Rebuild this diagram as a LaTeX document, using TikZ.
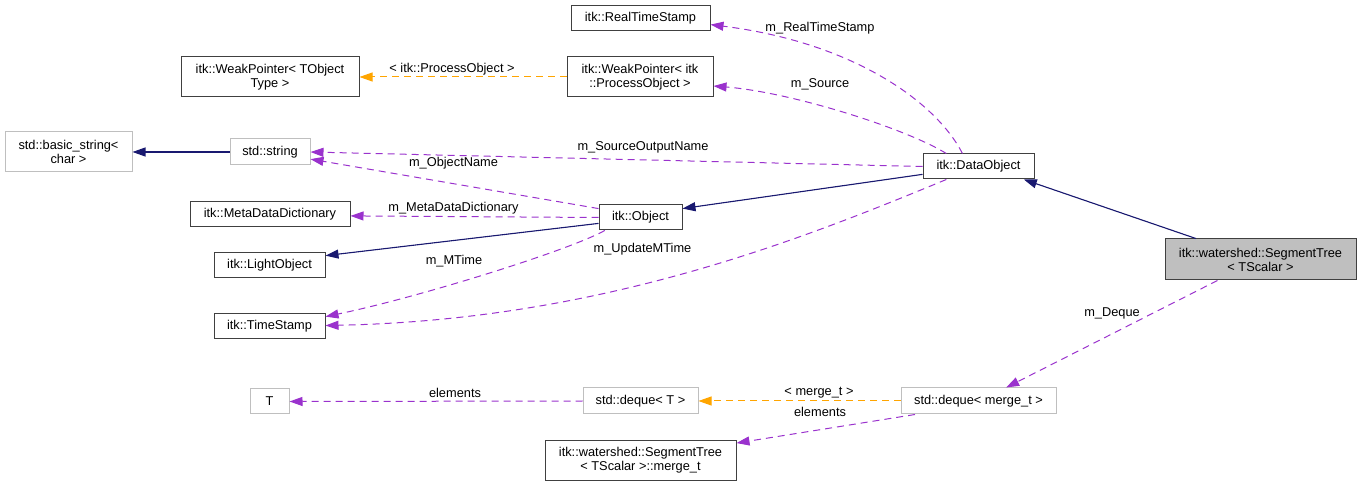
\documentclass[tikz,border=0pt]{standalone}
\usepackage{fontspec}
\setmainfont{Liberation Sans}
\usetikzlibrary{arrows.meta}
\definecolor{navy}{HTML}{191970}
\definecolor{purp}{HTML}{9A32CD}
\definecolor{orng}{HTML}{FFA500}
\definecolor{gbord}{HTML}{BFBFBF}
\definecolor{bord}{HTML}{404040}
\begin{document}
\begin{tikzpicture}[x=1pt,y=-1pt,
  font=\fontsize{12.8}{14}\selectfont,
  box/.style={draw=bord, line width=1pt, fill=white, inner sep=0pt, align=center},
  gbox/.style={box, draw=gbord},
  tip/.style={-{Triangle[length=13pt,width=9pt]}},
  inh/.style={draw=navy, line width=1.1pt, tip, fill=navy},
  mem/.style={draw=purp, line width=1pt, dash pattern=on 7pt off 5pt, tip},
  tmpl/.style={draw=orng, line width=1pt, dash pattern=on 7pt off 5pt, tip},
  lbl/.style={inner sep=0pt}]
\useasboundingbox (0,0) rectangle (1361,486);

% nodes
\node[box, minimum width=139pt, minimum height=25pt] (RTS) at (640.5,18.5) {itk::RealTimeStamp};
\node[box, minimum width=146pt, minimum height=40pt] (WPO) at (640,77) {itk::WeakPointer< itk\\::ProcessObject >};
\node[box, minimum width=178pt, minimum height=40pt] (WPT) at (270,77) {itk::WeakPointer< TObject\\Type >};
\node[gbox, minimum width=127pt, minimum height=40pt] (BS) at (68.5,152) {std::basic\_string<\\char >};
\node[gbox, minimum width=80pt, minimum height=26pt] (S) at (270,152) {std::string};
\node[box, minimum width=160pt, minimum height=25pt] (MDD) at (270,214.5) {itk::MetaDataDictionary};
\node[box, minimum width=83pt, minimum height=25pt] (Obj) at (640.5,217.5) {itk::Object};
\node[box, minimum width=111pt, minimum height=25pt] (DO) at (978.5,166.5) {itk::DataObject};
\node[box, fill=gbord, minimum width=191pt, minimum height=41pt] (ST) at (1260.5,259.5) {itk::watershed::SegmentTree\\< TScalar >};
\node[box, minimum width=111pt, minimum height=25pt] (LO) at (269.5,265.5) {itk::LightObject};
\node[box, minimum width=111pt, minimum height=25pt] (TS) at (269.5,326.5) {itk::TimeStamp};
\node[gbox, minimum width=39pt, minimum height=25pt] (T) at (269.5,401.5) {T};
\node[gbox, minimum width=115pt, minimum height=26pt] (DT) at (640.5,401) {std::deque< T >};
\node[gbox, minimum width=155pt, minimum height=26pt] (DM) at (978.5,401) {std::deque< merge\_t >};
\node[box, minimum width=191pt, minimum height=40pt] (MT) at (640.5,460) {itk::watershed::SegmentTree\\< TScalar >::merge\_t};

% inheritance
\draw[inh] (ST.162) -- (DO.-16);
\draw[inh] (DO.188) -- (Obj.12);
\draw[inh] (Obj.188) -- (LO.10);
\draw[inh] (S.west) -- (BS.east);

% members
\draw[mem] (DO.141) .. controls (935,100) and (850,42) .. (RTS.-5);
\draw[mem] (DO.158) .. controls (905,128) and (790,92) .. (WPO.-7);
\draw[mem] (DO.west) -- (S.east);
\draw[mem] (Obj.168) -- (S.-10);
\draw[mem] (Obj.west) -- (MDD.-1);
\draw[mem] (Obj.200) .. controls (570,250) and (420,297) .. (TS.10);
\draw[mem] (DO.202) .. controls (800,240) and (600,320) .. (TS.1);
\draw[mem] (ST.206) -- (DM.26);
\draw[mem] (DT.west) -- (T.east);
\draw[mem] (DM.192) -- (MT.10);

% template instances
\draw[tmpl] (WPO.west) -- (WPT.east);
\draw[tmpl] (DM.west) -- (DT.east);

% labels
\node[lbl] (l1) at (820,28) {m\_RealTimeStamp};
\node[lbl] (l2) at (820,84) {m\_Source};
\node[lbl] (l3) at (452,69) {< itk::ProcessObject >};
\node[lbl] (l4) at (643,147) {m\_SourceOutputName};
\node[lbl] (l5) at (453.5,163) {m\_ObjectName};
\node[lbl] (l6) at (453.5,208) {m\_MetaDataDictionary};
\node[lbl] (l7) at (454,261) {m\_MTime};
\node[lbl] (l8) at (642.5,249) {m\_UpdateMTime};
\node[lbl] (l9) at (1112,313) {m\_Deque};
\node[lbl] (l10) at (819,393) {< merge\_t >};
\node[lbl] (l11) at (455,393) {elements};
\node[lbl] (l12) at (820,412) {elements};
\end{tikzpicture}
\end{document}
